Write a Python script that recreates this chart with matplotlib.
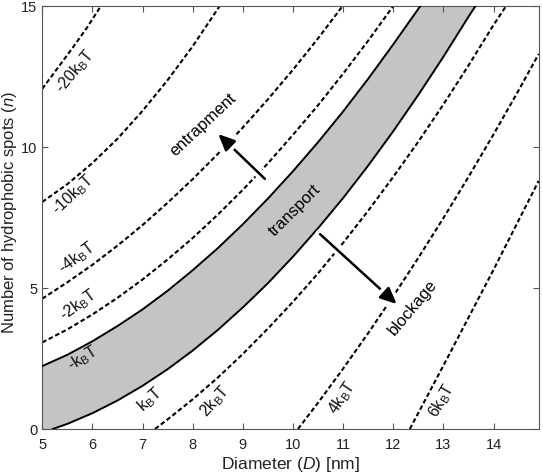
"""Energy contours of nanoparticle transport vs diameter and hydrophobic spots."""

import matplotlib

matplotlib.use("Agg")

import matplotlib.pyplot as plt
import matplotlib.patheffects as pe
import numpy as np

plt.rcParams["font.family"] = ["Liberation Sans", "DejaVu Sans"]
plt.rcParams["mathtext.fontset"] = "custom"
plt.rcParams["mathtext.rm"] = "Liberation Sans"
plt.rcParams["mathtext.it"] = "Liberation Sans:italic"

# contour lines: diameter D [nm] and spot count n
D_m20 = [5.0, 5.3, 5.6, 5.9, 6.17]
n_m20 = [12.06, 12.78, 13.5, 14.25, 15.0]

D_m10 = [5.0, 5.5, 6.0, 6.5, 7.0, 7.5, 8.0, 8.54]
n_m10 = [8.05, 8.68, 9.43, 10.29, 11.28, 12.37, 13.57, 15.0]

D_m4 = [5.0, 5.5, 6.0, 6.5, 7.0, 7.5, 8.0, 8.5, 9.0, 9.5, 10.0, 10.5, 10.99]
n_m4 = [4.62, 5.2, 5.82, 6.5, 7.23, 8.02, 8.86, 9.75, 10.69, 11.69, 12.74, 13.85, 15.0]

D_m2 = [5.0, 5.5, 6.0, 6.5, 7.0, 7.5, 8.0, 8.5, 9.0, 9.5, 10.0, 10.5, 11.0, 11.5, 12.0]
n_m2 = [3.07, 3.53, 4.06, 4.65, 5.3, 6.01, 6.77, 7.6, 8.48, 9.42, 10.43, 11.48, 12.6, 13.77, 15.0]

D_m1 = [5.0, 5.5, 6.0, 6.5, 7.0, 7.5, 8.0, 8.5, 9.0, 9.5, 10.0, 10.5, 11.0, 11.5, 12.0, 12.54]
n_m1 = [2.23, 2.63, 3.11, 3.65, 4.24, 4.9, 5.63, 6.41, 7.26, 8.17, 9.14, 10.17, 11.26, 12.42, 13.64, 15.0]

D_p1 = [5.21, 5.5, 6.0, 6.5, 7.0, 7.5, 8.0, 8.5, 9.0, 9.5, 10.0, 10.5, 11.0, 11.5, 12.0, 12.5, 13.0, 13.5, 13.64]
n_p1 = [0.0, 0.18, 0.56, 1.01, 1.53, 2.12, 2.78, 3.51, 4.31, 5.17, 6.11, 7.12, 8.19, 9.34, 10.56, 11.85, 13.2, 14.62, 15.0]

D_p2 = [7.25, 7.5, 8.0, 8.5, 9.0, 9.5, 10.0, 10.5, 11.0, 11.5, 12.0, 12.5, 13.0, 13.5, 14.0, 14.25]
n_p2 = [0.0, 0.34, 1.05, 1.82, 2.66, 3.56, 4.51, 5.52, 6.6, 7.74, 8.94, 10.19, 11.51, 12.89, 14.33, 15.0]

D_p4 = [10.1, 10.5, 11.0, 11.5, 12.0, 12.5, 13.0, 13.5, 14.0, 14.5, 14.9]
n_p4 = [0.0, 0.93, 2.14, 3.4, 4.71, 6.07, 7.48, 8.94, 10.45, 12.01, 13.3]

D_p6 = [12.33, 13.0, 13.5, 14.0, 14.5, 14.9]
n_p6 = [0.0, 2.25, 3.95, 5.65, 7.4, 8.8]

KB = "k$_\\mathregular{B}$T"
level_labels = ["-20" + KB, "-10" + KB, "-4" + KB, "-2" + KB, "-" + KB,
                KB, "2" + KB, "4" + KB, "6" + KB]
label_D = [5.65, 5.61, 5.69, 5.72, 5.81, 7.14, 8.45, 10.98, 12.97]
label_n = [12.7, 8.33, 6.1, 4.43, 2.54, 1.08, 1.01, 1.13, 1.03]
label_rot = [50, 43, 37, 36, 32, 42, 48, 56, 60]

DASH = (0, (2.2, 1.3))


def main():
    fig = plt.figure(figsize=(5.43, 4.77), dpi=100)
    ax = fig.add_axes([42.2 / 543, 47 / 477, 496.5 / 543, 423 / 477])

    # transport band between -kBT and kBT
    band_D = np.r_[5.0, D_p1, D_m1[::-1]]
    band_n = np.r_[0.0, n_p1, n_m1[::-1]]
    ax.fill(band_D, band_n, color="#c4c4c4", lw=0, zorder=1)

    for D, n in [(D_m20, n_m20), (D_m10, n_m10), (D_m4, n_m4), (D_m2, n_m2),
                 (D_p2, n_p2), (D_p4, n_p4), (D_p6, n_p6)]:
        ax.plot(D, n, color="black", lw=1.5, linestyle=DASH, zorder=2)
    for D, n in [(D_m1, n_m1), (D_p1, n_p1)]:
        ax.plot(D, n, color="black", lw=1.4, zorder=3)

    for text, x, y, rot in zip(level_labels, label_D, label_n, label_rot):
        ax.text(x, y, text, fontsize=11.5, rotation=rot, ha="center",
                va="center", rotation_mode="anchor", color="#111111",
                zorder=5)

    ax.text(8.21, 10.82, "entrapment", fontsize=12, rotation=43,
            ha="center", va="center", rotation_mode="anchor", zorder=5)
    ax.text(10.04, 7.8, "transport", fontsize=12, rotation=45,
            ha="center", va="center", rotation_mode="anchor", zorder=5)
    ax.text(12.39, 4.33, "blockage", fontsize=12, rotation=50,
            ha="center", va="center", rotation_mode="anchor", zorder=5)

    arrow_style = dict(arrowstyle="-|>,head_length=1.0,head_width=0.45",
                       color="black", lw=1.8, shrinkA=0, shrinkB=0)
    for tail, head in [((9.44, 8.87), (8.51, 10.46)),
                       ((10.54, 6.91), (12.07, 4.43))]:
        ann = ax.annotate("", xy=head, xytext=tail, arrowprops=arrow_style,
                          zorder=6)
        ann.arrow_patch.set_path_effects(
            [pe.withStroke(linewidth=7, foreground="white")])

    ax.set_xlim(5, 14.9)
    ax.set_ylim(0, 15)
    ax.set_xticks(range(5, 15))
    ax.set_yticks([0, 5, 10, 15])
    ax.tick_params(direction="in", top=True, right=True, length=4,
                   width=0.8, color="#555555", labelsize=10.5,
                   labelcolor="#222222", pad=3.5)
    ax.tick_params(axis="x", pad=6)
    for spine in ax.spines.values():
        spine.set_color("#555555")
        spine.set_linewidth(0.8)

    ax.set_xlabel("Diameter ($\\mathit{D}$) [nm]", fontsize=12.5,
                  color="#222222", labelpad=2)
    ax.set_ylabel("Number of hydrophobic spots ($\\mathit{n}$)",
                  fontsize=12, color="#222222")
    ax.yaxis.set_label_coords(-0.046, 0.515)

    fig.savefig("out.png", dpi=100)
    plt.close(fig)


main()
